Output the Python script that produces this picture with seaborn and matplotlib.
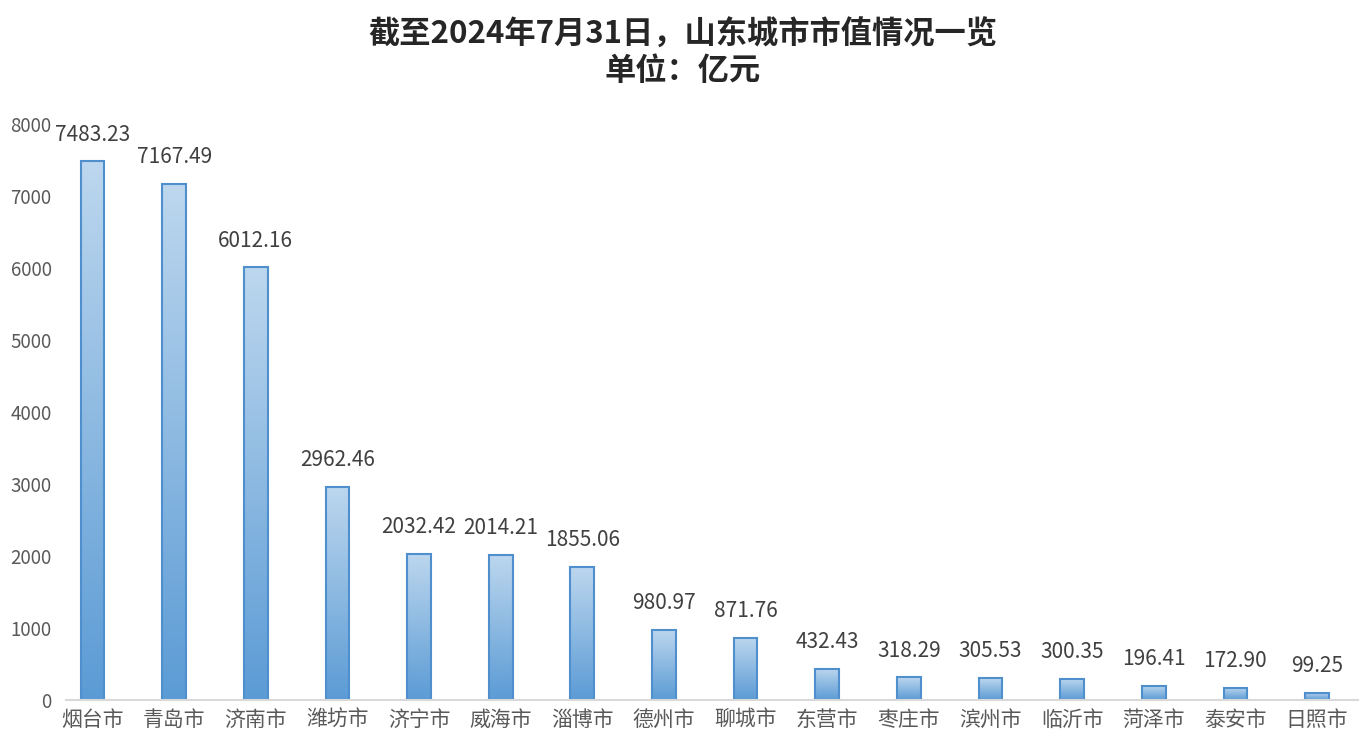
import numpy as np
import pandas as pd
import matplotlib
matplotlib.use("Agg")
import matplotlib.pyplot as plt
import seaborn as sns
from matplotlib.colors import LinearSegmentedColormap

cities = ["烟台市", "青岛市", "济南市", "潍坊市", "济宁市", "威海市", "淄博市", "德州市",
          "聊城市", "东营市", "枣庄市", "滨州市", "临沂市", "菏泽市", "泰安市", "日照市"]
market_cap = [7483.23, 7167.49, 6012.16, 2962.46, 2032.42, 2014.21, 1855.06, 980.97,
              871.76, 432.43, 318.29, 305.53, 300.35, 196.41, 172.90, 99.25]
y_ticks = [0, 1000, 2000, 3000, 4000, 5000, 6000, 7000, 8000]

sns.set_style("white")
plt.rcParams["font.family"] = ["Noto Sans CJK SC", "DejaVu Sans"]

df = pd.DataFrame({"city": cities, "value": market_cap})

fig, ax = plt.subplots(figsize=(13.66, 7.53), dpi=100)
fig.subplots_adjust(left=0.048, right=0.994, top=0.835, bottom=0.07)

sns.barplot(data=df, x="city", y="value", ax=ax, width=0.29,
            color="#5B9BD5", edgecolor="#4F8FCE", linewidth=1.5)

# vertical gradient inside each bar: light at top, darker at bottom
cmap = LinearSegmentedColormap.from_list("bar_grad", ["#5B9BD5", "#BDD7EE"])
grad = np.linspace(0, 1, 256).reshape(-1, 1)
for patch in ax.patches:
    x0, y0 = patch.get_x(), patch.get_y()
    w, h = patch.get_width(), patch.get_height()
    im = ax.imshow(grad, cmap=cmap, origin="lower", aspect="auto",
                   extent=(x0, x0 + w, y0, y0 + h), zorder=patch.get_zorder())
    im.set_clip_path(patch)
    patch.set_facecolor("none")
    patch.set_zorder(patch.get_zorder() + 0.1)

for i, v in enumerate(market_cap):
    ax.text(i, v + 220, f"{v:.2f}", ha="center", va="bottom",
            fontsize=15, color="#404040")

ax.set_xlim(-0.33, len(cities) - 0.5)
ax.set_ylim(0, 8000)
ax.set_yticks(y_ticks)
ax.tick_params(axis="y", labelsize=13.5, labelcolor="#595959", length=0, pad=10)
ax.tick_params(axis="x", labelsize=15, labelcolor="#595959", length=0, pad=6)
ax.set_xlabel("")
ax.set_ylabel("")
for side in ["top", "right", "left"]:
    ax.spines[side].set_visible(False)
ax.spines["bottom"].set_color("#D9D9D9")
ax.spines["bottom"].set_linewidth(1.5)

fig.suptitle("截至2024年7月31日，山东城市市值情况一览\n单位：亿元",
             fontsize=22.5, fontweight="bold", color="#262626", y=0.975, linespacing=1.15)

fig.savefig("out.png", dpi=100)
